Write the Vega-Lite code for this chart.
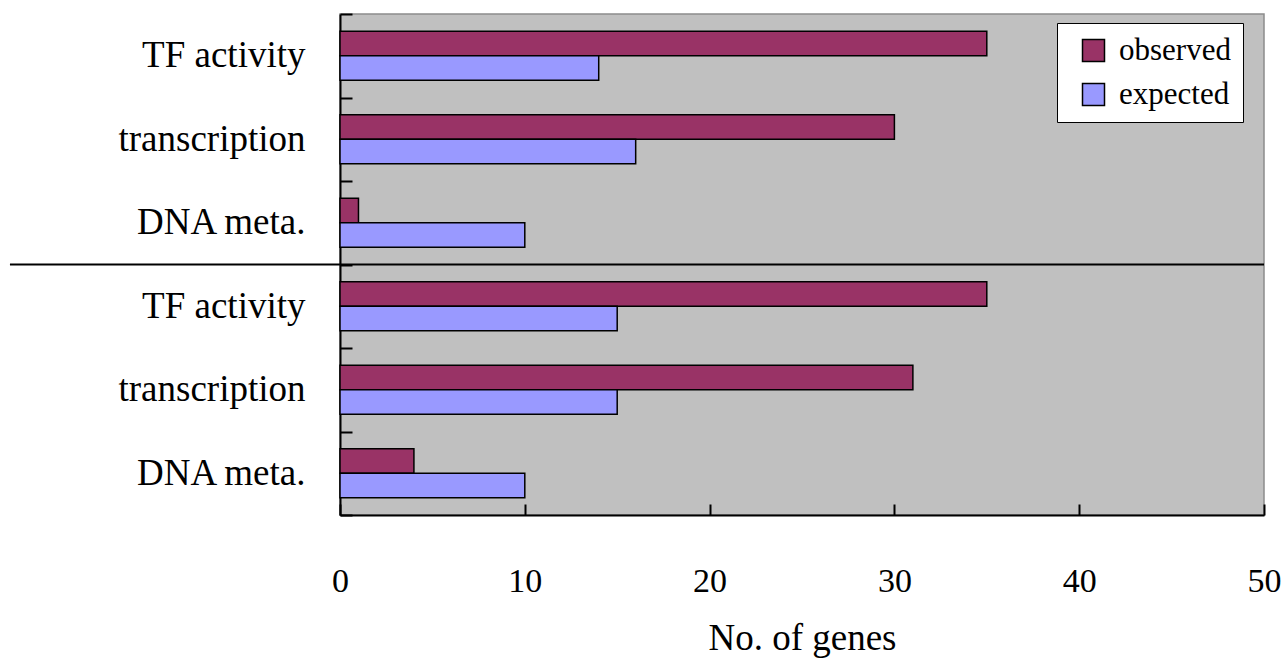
{
  "$schema": "https://vega.github.io/schema/vega-lite/v6.json",
  "width": 924,
  "height": 501,
  "autosize": {"type": "none"},
  "padding": {"left": 340, "top": 14, "right": 18, "bottom": 143},
  "background": "white",
  "config": {
    "view": {"fill": "#C0C0C0", "stroke": "#8c8c8c", "strokeWidth": 1.5},
    "font": "Liberation Serif"
  },
  "layer": [
    {
      "data": {
        "values": [
          {"row": "1|TF activity", "series": "observed", "value": 35},
          {"row": "1|TF activity", "series": "expected", "value": 14},
          {"row": "2|transcription", "series": "observed", "value": 30},
          {"row": "2|transcription", "series": "expected", "value": 16},
          {"row": "3|DNA meta.", "series": "observed", "value": 1},
          {"row": "3|DNA meta.", "series": "expected", "value": 10},
          {"row": "4|TF activity", "series": "observed", "value": 35},
          {"row": "4|TF activity", "series": "expected", "value": 15},
          {"row": "5|transcription", "series": "observed", "value": 31},
          {"row": "5|transcription", "series": "expected", "value": 15},
          {"row": "6|DNA meta.", "series": "observed", "value": 4},
          {"row": "6|DNA meta.", "series": "expected", "value": 10}
        ]
      },
      "mark": {"type": "bar", "stroke": "black", "strokeWidth": 1.5},
      "encoding": {
        "y": {
          "field": "row",
          "type": "nominal",
          "sort": ["1|TF activity", "2|transcription", "3|DNA meta.", "4|TF activity", "5|transcription", "6|DNA meta."],
          "scale": {"paddingInner": 0, "paddingOuter": 0},
          "axis": {
            "title": null,
            "labelExpr": "split(datum.value, '|')[1]",
            "labelFont": "Liberation Serif",
            "labelFontSize": 37,
            "labelLimit": 400,
            "labelColor": "black",
            "labelPadding": 47,
            "tickBand": "extent",
            "tickSize": -12,
            "tickColor": "black",
            "tickWidth": 2,
            "domainColor": "black",
            "domainWidth": 2
          }
        },
        "yOffset": {
          "field": "series",
          "type": "nominal",
          "sort": ["observed", "expected"],
          "scale": {"paddingInner": 0, "paddingOuter": 0.7}
        },
        "x": {
          "field": "value",
          "type": "quantitative",
          "scale": {"domain": [0, 50], "nice": false},
          "axis": {
            "title": "No. of genes",
            "titleFont": "Liberation Serif",
            "titleFontSize": 37,
            "titleFontWeight": "normal",
            "titleColor": "black",
            "titlePadding": 22,
            "values": [0, 10, 20, 30, 40, 50],
            "grid": false,
            "labelFont": "Liberation Serif",
            "labelFontSize": 34,
            "labelColor": "black",
            "labelPadding": 60,
            "labelFlush": false,
            "tickSize": -11,
            "tickColor": "black",
            "tickWidth": 2,
            "domainColor": "black",
            "domainWidth": 2
          }
        },
        "color": {
          "field": "series",
          "type": "nominal",
          "sort": ["observed", "expected"],
          "scale": {"domain": ["observed", "expected"], "range": ["#993366", "#9999FF"]},
          "legend": {
            "title": null,
            "orient": "none",
            "legendX": 717,
            "legendY": 9,
            "fillColor": "white",
            "strokeColor": "black",
            "padding": 12,
            "symbolOffset": 9,
            "symbolType": "square",
            "symbolSize": 484,
            "symbolStrokeColor": "black",
            "symbolStrokeWidth": 1.5,
            "labelFont": "Liberation Serif",
            "labelFontSize": 31,
            "labelColor": "black",
            "labelOffset": 10,
            "rowPadding": 12,
            "symbolOpacity": 1
          }
        }
      }
    },
    {
      "data": {"values": [{"row": "4|TF activity"}]},
      "mark": {"type": "rule", "color": "black", "strokeWidth": 2, "clip": false},
      "encoding": {
        "y": {"field": "row", "type": "nominal", "bandPosition": 0},
        "x": {"datum": -17.86},
        "x2": {"datum": 50}
      }
    }
  ]
}
